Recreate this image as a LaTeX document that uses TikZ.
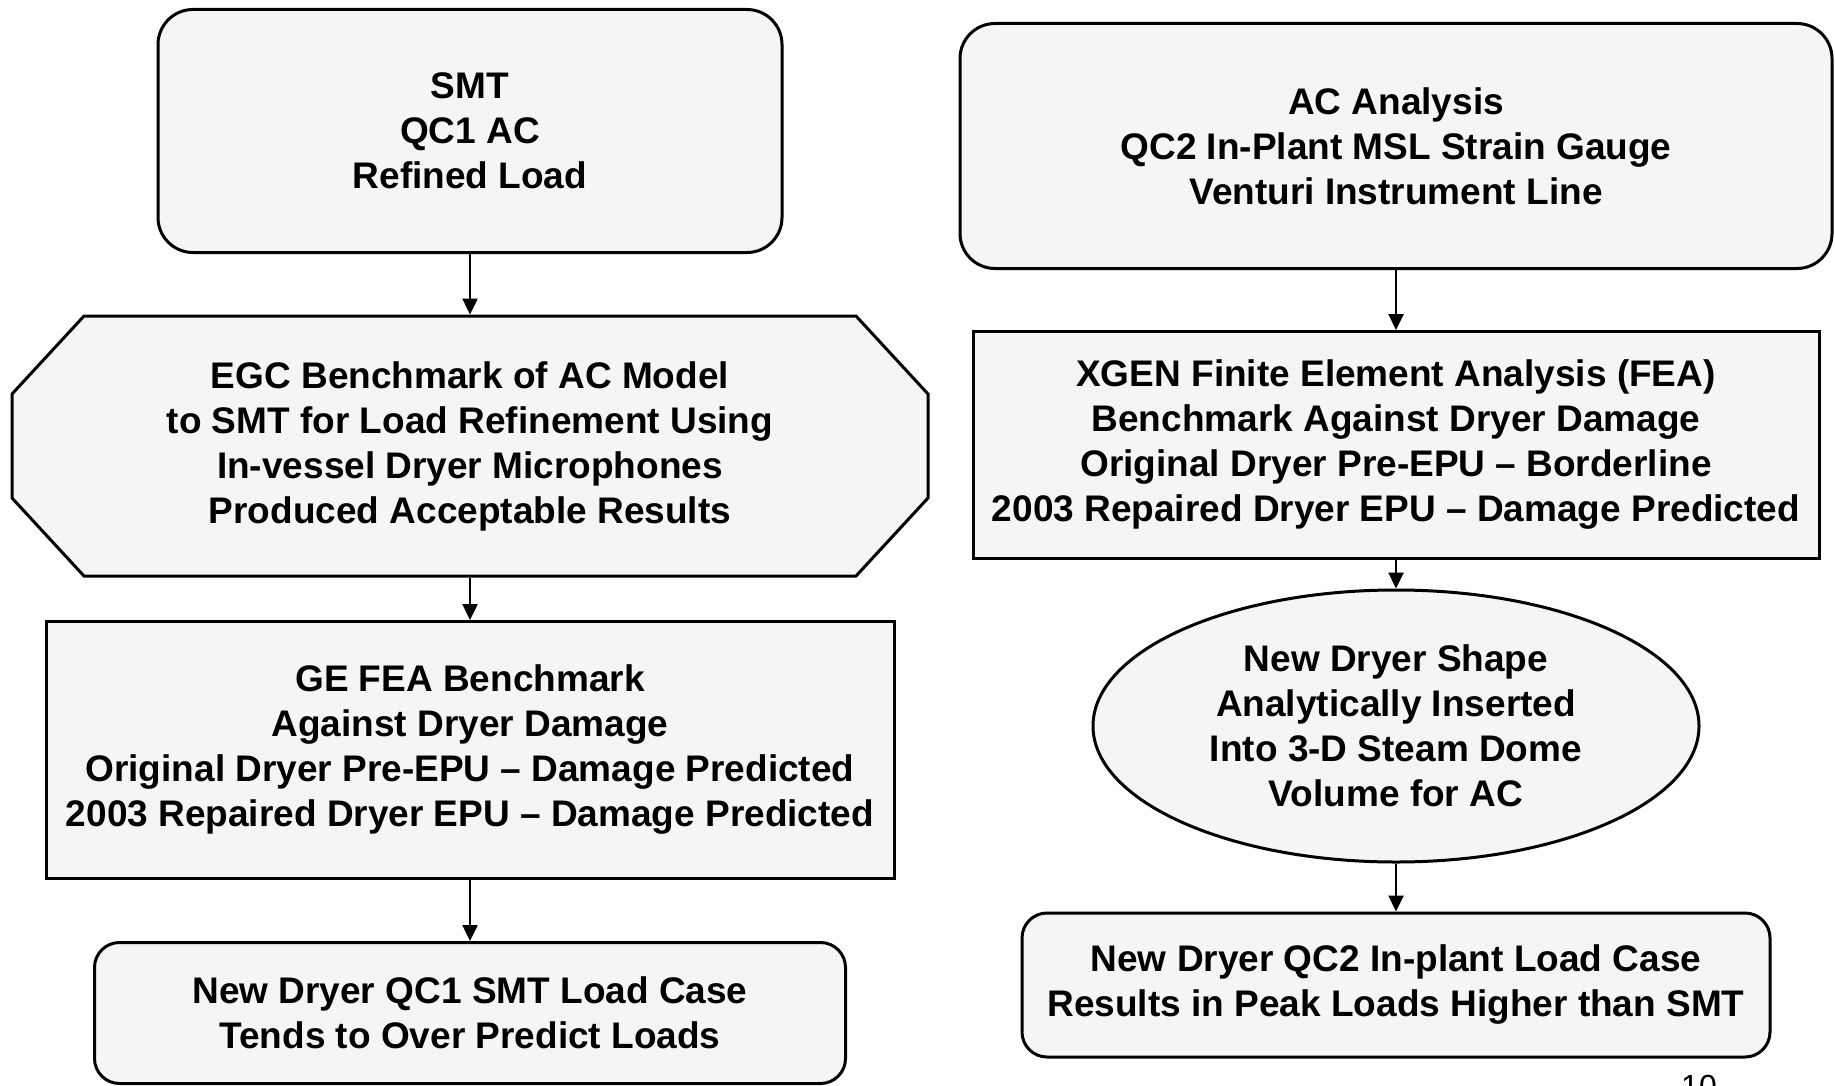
\documentclass[tikz,border=0pt]{standalone}
\usepackage{fontspec}
\setmainfont{Liberation Sans}
\usetikzlibrary{arrows.meta,shapes.geometric}

\begin{document}
\begin{tikzpicture}[x=1pt, y=-1pt,
    boxtext/.style={font=\fontsize{37}{45}\selectfont\bfseries, align=center,
                    line width=3pt, fill=black!4, inner sep=0pt},
    roundbox/.style={boxtext, draw, rounded corners=#1},
    roundbox/.default=35pt,
    plainbox/.style={boxtext, draw},
    ovalbox/.style={boxtext, draw, ellipse},
    flowarrow/.style={line width=2.5pt, -{Triangle[length=16pt, width=15pt]}}]

      % Page size of the scanned slide
      \useasboundingbox (0,0) rectangle (1835,1086);

      \def\lx{470}
      \def\rx{1396}

      % Left column
      \node[roundbox, minimum width=624pt, minimum height=243pt] (smt) at (\lx,131)
        {SMT\\QC1 AC\\Refined Load};

      % the octagon is drawn by hand, the node only holds the text
      \draw[line width=3pt, fill=black!4] (84,316) -- (856,316) -- (928,394) -- (928,498)
        -- (856,576) -- (84,576) -- (12,498) -- (12,394) -- cycle;
      \node[boxtext, fill=none, minimum width=916pt, minimum height=260pt] (egc) at (\lx,446)
        {EGC Benchmark of AC Model\\to SMT for Load Refinement Using\\In-vessel Dryer Microphones\\Produced Acceptable Results};

      \node[plainbox, minimum width=848pt, minimum height=257pt] (gefea) at (\lx,750)
        {GE FEA Benchmark\\Against Dryer Damage\\Original Dryer Pre-EPU -- Damage Predicted\\2003 Repaired Dryer EPU -- Damage Predicted};

      \node[roundbox=25pt, minimum width=751pt, minimum height=141pt] (newqc1) at (\lx,1013)
        {New Dryer QC1 SMT Load Case\\Tends to Over Predict Loads};

      % Right column
      \node[roundbox, minimum width=872pt, minimum height=245pt] (acan) at (\rx,146)
        {AC Analysis\\QC2 In-Plant MSL Strain Gauge\\Venturi Instrument Line};

      \node[plainbox, minimum width=846pt, minimum height=227pt] (xgen) at (\rx,445)
        {XGEN Finite Element Analysis (FEA)\\Benchmark Against Dryer Damage\\Original Dryer Pre-EPU -- Borderline\\2003 Repaired Dryer EPU -- Damage Predicted};

      \node[ovalbox, minimum width=606pt, minimum height=272pt] (shape) at (\rx,726)
        {New Dryer Shape\\Analytically Inserted\\Into 3-D Steam Dome\\Volume for AC};

      \node[roundbox=25pt, minimum width=748pt, minimum height=144pt] (newqc2) at (\rx,985)
        {New Dryer QC2 In-plant Load Case\\Results in Peak Loads Higher than SMT};

      % Page number, cut off at the bottom
      \node[anchor=north west, inner sep=0pt, font=\fontsize{32}{38}\selectfont] (pagenum) at (1681,1075) {10};

      % Arrows
      \draw[flowarrow] (smt) -- (egc);
      \draw[flowarrow] (egc) -- (gefea);
      \draw[flowarrow] (gefea) -- (newqc1);
      \draw[flowarrow] (acan) -- (xgen);
      \draw[flowarrow] (xgen) -- (shape);
      \draw[flowarrow] (shape) -- (newqc2);
    \end{tikzpicture}
\end{document}
